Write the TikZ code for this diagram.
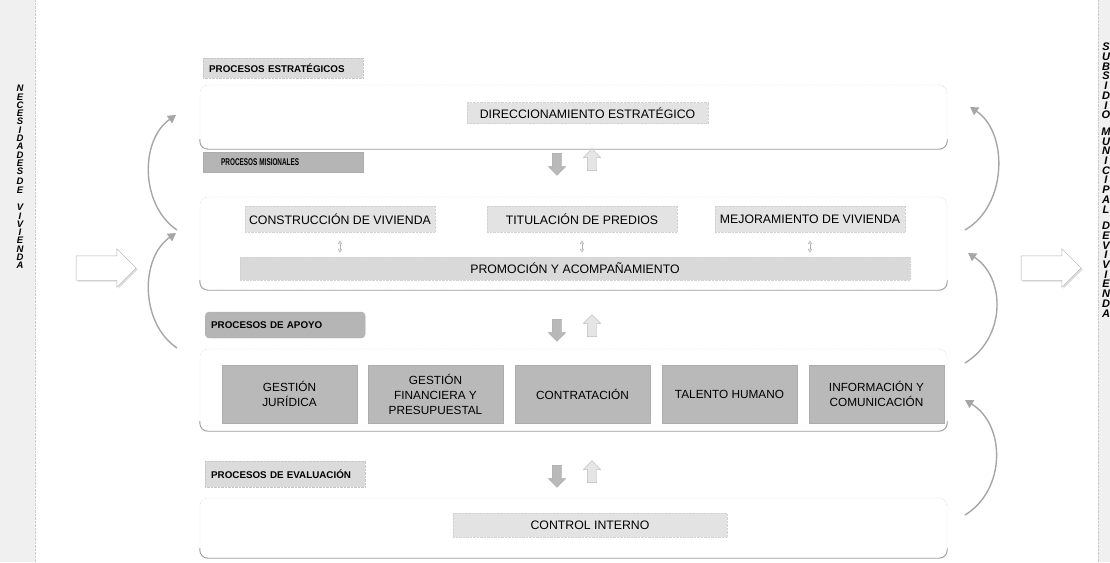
\documentclass[tikz,border=0pt]{standalone}
\usepackage{graphicx}
\usepackage{fontspec}
\setmainfont{Liberation Sans}
\usetikzlibrary{shapes.arrows,arrows.meta,shadows}

\begin{document}
\begin{tikzpicture}[x=1pt,y=-1pt,font=\fontsize{12.3}{14}\selectfont]
\tikzset{
% frames round each group of processes
panel/.style={draw=gray!55,densely dotted,rounded corners=8,inner sep=0},
shade edge/.style={draw=gray!75,line width=0.9pt,rounded corners=8},
% title tags of the groups
tag/.style={inner xsep=6,inner ysep=0,text width=148,align=left,font=\bfseries\fontsize{9.8}{11}\selectfont},
light tag/.style={tag,fill=gray!28,draw=gray!45,densely dotted,minimum height=20},
dark tag/.style={tag,fill=gray!58,draw=gray!65,minimum height=20},
% process boxes
procbox/.style={fill=gray!22,draw=gray!35,densely dotted,inner sep=0},
supportbox/.style={fill=gray!55,draw=gray!65,inner sep=0,minimum width=135,minimum height=58,align=center,
  drop shadow={shadow xshift=1pt,shadow yshift=-1pt,fill=gray!40},font=\fontsize{11.8}{15}\selectfont},
% arrows between the groups
downarrow/.style={single arrow,shape border rotate=270,fill=gray!55,draw=gray!70,inner sep=4.5,minimum height=22,single arrow head extend=4},
uparrow/.style={single arrow,shape border rotate=90,fill=gray!20,draw=gray!55,inner sep=4.5,minimum height=22,single arrow head extend=4},
twoway/.style={draw=gray!60,line width=0.6pt,{Latex[open,length=4,width=5]}-{Latex[open,length=4,width=5]}},
bigarrow/.style={single arrow,draw=gray!60,fill=white,inner xsep=0,inner ysep=12,minimum height=60,single arrow head extend=7,
  drop shadow={shadow xshift=1.5pt,shadow yshift=-1.5pt,fill=gray!55}},
cycle arrow/.style={draw=gray!70,line width=1.4pt,-{Triangle[length=8,width=9]}},
letters/.style={inner sep=0,align=center,font=\bfseries\itshape\fontsize{9.5}{8.3}\selectfont}
}

\useasboundingbox (0,0) rectangle (1110,562);

% side columns
\fill[gray!12] (0,0) rectangle (35,562);
\draw[gray!40,densely dotted] (35,0) -- (35,562);
\fill[gray!12] (1098,0) rectangle (1112,562);
\draw[gray!40,densely dotted] (1098,0) -- (1098,562);
\node[letters,anchor=north] (needs) at (20,85) {N\\E\\C\\E\\S\\I\\D\\A\\D\\E\\S\\[1.7pt]D\\E\\[9.4pt]V\\I\\V\\I\\E\\N\\D\\A};
\node[letters,font=\bfseries\itshape\fontsize{11}{9.7}\selectfont,anchor=north] (answer) at (1106,43) {S\\U\\B\\S\\I\\D\\I\\O\\[7pt]M\\U\\N\\I\\C\\I\\P\\A\\L\\[7pt]D\\E\\V\\I\\V\\I\\E\\N\\D\\A};

% panels
\node[panel,minimum width=747,minimum height=64] (strategic) at (573.5,117) {};
\node[panel,minimum width=747,minimum height=93] (mission) at (573.5,243.5) {};
\node[panel,minimum width=747,minimum height=82] (support) at (573.5,390) {};
\node[panel,minimum width=747,minimum height=60] (review) at (573.5,528) {};
\draw[shade edge] ([yshift=10]strategic.south west) -- (strategic.south west) -- (strategic.south east) -- ([yshift=10]strategic.south east);
\draw[shade edge] ([yshift=10]mission.south west) -- (mission.south west) -- (mission.south east) -- ([yshift=10]mission.south east);
\draw[shade edge] ([yshift=10]support.south west) -- (support.south west) -- (support.south east) -- ([yshift=10]support.south east);
\draw[shade edge] ([yshift=10]review.south west) -- (review.south west) -- (review.south east) -- ([yshift=10]review.south east);

% tags
\node[light tag,anchor=west] (tagstrategic) at (203,68) {PROCESOS ESTRATÉGICOS};
\node[dark tag,anchor=west] (tagmission) at (203,162.5) {\hspace*{12pt}\scalebox{0.65}[1]{PROCESOS MISIONALES}};
\node[dark tag,rounded corners=4,minimum height=26,anchor=west] (tagsupport) at (205,325) {PROCESOS DE APOYO};
\node[light tag,minimum height=26,anchor=west] (tagreview) at (205,474) {PROCESOS DE EVALUACIÓN};

% processes
\node[procbox,minimum width=241,minimum height=21] (direction) at (587.5,113) {DIRECCIONAMIENTO ESTRATÉGICO};
\node[procbox,minimum width=190,minimum height=26] (building) at (340,219) {CONSTRUCCIÓN DE VIVIENDA};
\node[procbox,minimum width=190,minimum height=26] (titling) at (582,219) {TITULACIÓN DE PREDIOS};
\node[procbox,minimum width=190,minimum height=26] (upgrading) at (810,219) {MEJORAMIENTO DE VIVIENDA};
\node[procbox,fill=gray!30,minimum width=670,minimum height=23] (promotion) at (575,268.5) {PROMOCIÓN Y ACOMPAÑAMIENTO};
\node[supportbox] (legal) at (289.5,394) {GESTIÓN\\JURÍDICA};
\node[supportbox] (finance) at (435.5,394) {GESTIÓN\\FINANCIERA Y\\PRESUPUESTAL};
\node[supportbox] (hiring) at (582.5,394) {CONTRATACIÓN};
\node[supportbox] (people) at (729.5,394) {TALENTO HUMANO};
\node[supportbox] (media) at (876.5,394) {INFORMACIÓN Y\\COMUNICACIÓN};
\node[procbox,minimum width=274,minimum height=24] (control) at (590,525) {CONTROL INTERNO};

\draw[twoway,shorten <=8,shorten >=4] (building.south) -- (building.south |- promotion.north);
\draw[twoway,shorten <=8,shorten >=4] (titling.south) -- (titling.south |- promotion.north);
\draw[twoway,shorten <=8,shorten >=4] (upgrading.south) -- (upgrading.south |- promotion.north);

% arrows between groups
\node[downarrow] (down1) at (557,162) {};
\node[uparrow] (up1) at (592,162) {};
\node[downarrow] (down2) at (557,328) {};
\node[uparrow] (up2) at (592,328) {};
\node[downarrow] (down3) at (557,474) {};
\node[uparrow] (up3) at (592,474) {};

% input and output
\node[bigarrow] (inflow) at (100,268) {};
\node[bigarrow] (outflow) at (1045,268) {};

% cycle arrows
\coordinate (l1a) at (177,230); \coordinate (l1b) at (176,115);
\coordinate (l2a) at (177,348); \coordinate (l2b) at (176,233);
\coordinate (r1a) at (965,230); \coordinate (r1b) at (970,107);
\coordinate (r2a) at (965,363); \coordinate (r2b) at (968,253);
\coordinate (r3a) at (965,515); \coordinate (r3b) at (965,400);
\draw[cycle arrow] (l1a) .. controls (140,205) and (140,140) .. (l1b);
\draw[cycle arrow] (l2a) .. controls (140,323) and (140,258) .. (l2b);
\draw[cycle arrow] (r1a) .. controls (1008,205) and (1008,132) .. (r1b);
\draw[cycle arrow] (r2a) .. controls (1006,338) and (1006,278) .. (r2b);
\draw[cycle arrow] (r3a) .. controls (1006,490) and (1006,425) .. (r3b);
\end{tikzpicture}
\end{document}
